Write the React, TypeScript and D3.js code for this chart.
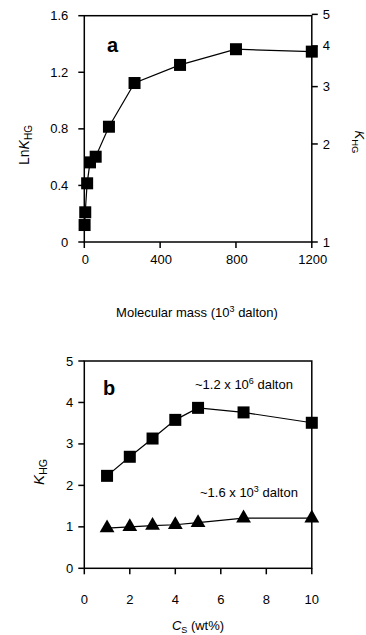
import React from 'react';
import * as d3 from 'd3';

// panel a: molecular mass (10^3 dalton) vs ln K_HG
const massA = [1.6, 5, 15, 30, 60, 130, 265, 505, 800, 1200];
const lnKA = [0.12, 0.21, 0.415, 0.563, 0.603, 0.815, 1.124, 1.252, 1.363, 1.346];
const xTicksA = [0, 400, 800, 1200];
const yTicksA = [0, 0.4, 0.8, 1.2, 1.6];
const kTicksA = [1, 2, 3, 4, 5];

// panel b: Cs (wt%) vs K_HG
const csB = [1, 2, 3, 4, 5, 7, 10];
const kHigh = [2.23, 2.69, 3.13, 3.58, 3.87, 3.76, 3.51];
const kLow = [0.97, 1.0, 1.03, 1.05, 1.1, 1.21, 1.21];
const xTicksB = [0, 2, 4, 6, 8, 10];
const yTicksB = [0, 1, 2, 3, 4, 5];

const font = 'Liberation Sans, Arial, sans-serif';

const App = () => {
  const left = 84.3;
  const right = 311.8;

  // panel a scales
  const xA = d3.scaleLinear().domain([0, 1200]).range([left, right]);
  const yA = d3.scaleLinear().domain([0, 1.6]).range([242, 15.7]);
  const lineA = d3.line<number>()
    .x((_, i) => xA(massA[i]))
    .y((d) => yA(d));

  // panel b scales
  const xB = d3.scaleLinear().domain([0, 10]).range([left, right]);
  const yB = d3.scaleLinear().domain([0, 5]).range([568.3, 361]);
  const lineHigh = d3.line<number>().x((_, i) => xB(csB[i])).y((d) => yB(d));
  const lowLine = d3.line<number>().x((_, i) => xB(csB[i])).y((d) => yB(d));
  const tri = d3.symbol().type(d3.symbolTriangle).size(95)();

  const sq = 12;
  const fs = 13;

  return (
    <svg
      width={366}
      height={635}
      style={{ position: 'absolute', left: 0, top: 0, background: '#fff' }}
      fontFamily={font}
    >
      {/* ---------- panel a ---------- */}
      <rect x={left} y={yA(1.6)} width={right - left} height={yA(0) - yA(1.6)}
        fill="none" stroke="#000" strokeWidth={1.5} />
      {yTicksA.map((t) => (
        <g key={'ya' + t}>
          <line x1={left - 6} x2={left} y1={yA(t)} y2={yA(t)} stroke="#000" strokeWidth={1.5} />
          <text x={left - 16} y={yA(t)} dy="0.35em" textAnchor="end" fontSize={fs}>{t}</text>
        </g>
      ))}
      {kTicksA.map((k) => (
        <g key={'ka' + k}>
          <line x1={right} x2={right + 6} y1={yA(Math.log(k))} y2={yA(Math.log(k))} stroke="#000" strokeWidth={1.5} />
          <text x={right + 11} y={yA(Math.log(k))} dy="0.35em" fontSize={fs}>{k}</text>
        </g>
      ))}
      {xTicksA.map((t) => (
        <g key={'xa' + t}>
          <line x1={xA(t)} x2={xA(t)} y1={yA(0)} y2={yA(0) + 6} stroke="#000" strokeWidth={1.5} />
          <text x={xA(t) + 1} y={259} dy="0.35em" textAnchor="middle" fontSize={fs}>{t}</text>
        </g>
      ))}
      <path d={lineA(lnKA) ?? ''} fill="none" stroke="#000" strokeWidth={1.2} />
      {lnKA.map((v, i) => (
        <rect key={'pa' + i} x={xA(massA[i]) - sq / 2} y={yA(v) - sq / 2} width={sq} height={sq} fill="#000" />
      ))}
      <text x={107} y={52} fontSize={20} fontWeight="bold">a</text>
      <text transform="translate(29,145) rotate(-90)" textAnchor="middle" fontSize={14}>
        Ln<tspan fontStyle="italic">K</tspan><tspan fontSize={10} dy={3}>HG</tspan>
      </text>
      <text transform="translate(355,142) rotate(90)" textAnchor="middle" fontSize={13}>
        <tspan fontStyle="italic">K</tspan><tspan fontSize={9.5} dy={3}>HG</tspan>
      </text>
      <text x={197} y={317} textAnchor="middle" fontSize={13}>
        Molecular mass (10<tspan fontSize={9} dy={-5}>3</tspan><tspan dy={5}> dalton)</tspan>
      </text>

      {/* ---------- panel b ---------- */}
      <rect x={left} y={yB(5)} width={right - left} height={yB(0) - yB(5)}
        fill="none" stroke="#000" strokeWidth={1.5} />
      {yTicksB.map((t) => (
        <g key={'yb' + t}>
          <line x1={left - 6} x2={left} y1={yB(t)} y2={yB(t)} stroke="#000" strokeWidth={1.5} />
          <text x={left - 11} y={yB(t)} dy="0.35em" textAnchor="end" fontSize={fs}>{t}</text>
        </g>
      ))}
      {xTicksB.map((t) => (
        <g key={'xb' + t}>
          <line x1={xB(t)} x2={xB(t)} y1={yB(0)} y2={yB(0) + 6} stroke="#000" strokeWidth={1.5} />
          <text x={xB(t)} y={599} dy="0.35em" textAnchor="middle" fontSize={fs}>{t}</text>
        </g>
      ))}
      <path d={lineHigh(kHigh) ?? ''} fill="none" stroke="#000" strokeWidth={1.2} />
      <path d={lowLine(kLow) ?? ''} fill="none" stroke="#000" strokeWidth={1.2} />
      {kHigh.map((v, i) => (
        <rect key={'hb' + i} x={xB(csB[i]) - sq / 2} y={yB(v) - sq / 2} width={sq} height={sq} fill="#000" />
      ))}
      {kLow.map((v, i) => (
        <path key={'lb' + i} d={tri ?? ''} transform={`translate(${xB(csB[i])},${yB(v)})`} fill="#000" />
      ))}
      <text x={103} y={395} fontSize={20} fontWeight="bold">b</text>
      <text x={195} y={389} fontSize={13}>
        ~1.2 x 10<tspan fontSize={9} dy={-5}>6</tspan><tspan dy={5}> dalton</tspan>
      </text>
      <text x={200} y={497} fontSize={13}>
        ~1.6 x 10<tspan fontSize={9} dy={-5}>3</tspan><tspan dy={5}> dalton</tspan>
      </text>
      <text transform="translate(44,472) rotate(-90)" textAnchor="middle" fontSize={15}>
        <tspan fontStyle="italic">K</tspan><tspan fontSize={10.5} dy={3}>HG</tspan>
      </text>
      <text x={198} y={630} textAnchor="middle" fontSize={13}>
        <tspan fontStyle="italic">C</tspan><tspan fontSize={9} dy={2.5}>S</tspan><tspan dy={-2.5}> (wt%)</tspan>
      </text>
    </svg>
  );
};

export default App;
